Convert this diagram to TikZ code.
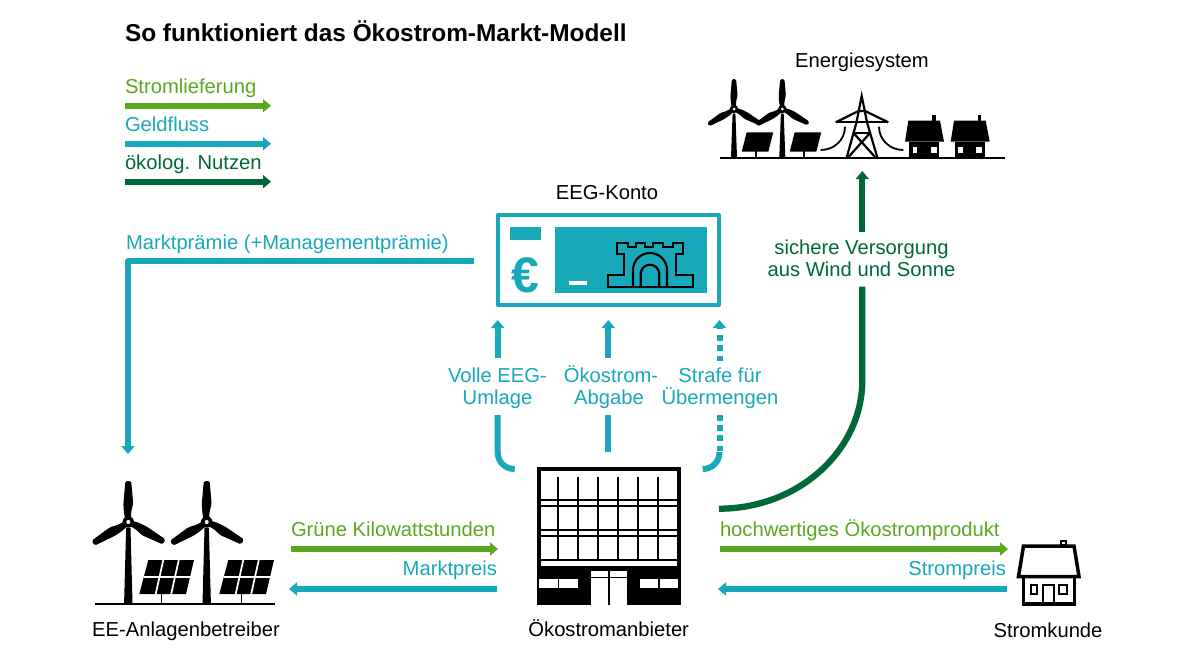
\documentclass[tikz,border=0pt]{standalone}
\usepackage{fontspec}
\setmainfont{Liberation Sans}
\usetikzlibrary{arrows.meta}
\definecolor{oegreen}{HTML}{5BA81E}
\definecolor{oeteal}{HTML}{17A9B9}
\definecolor{oedark}{HTML}{006838}
\tikzset{
  lab/.style={inner sep=0pt,outer sep=0pt,font=\fontsize{20.2}{24}\selectfont},
  flow/.style={line width=6pt,-{Triangle[width=13pt,length=8pt]}},
  flowend/.style={line width=6pt},
  dots/.style={line width=6pt,dash pattern=on 5.5pt off 4.7pt}
}
\newcommand{\oeblade}[4]{%
  \begin{scope}[shift={(#1,#2)},rotate=#3]
    \fill[rounded corners=1.6pt] (0,-.06*#4) -- (.25*#4,-.11*#4) -- (.45*#4,-.12*#4) -- (#4,-.07*#4) -- (#4,.07*#4) -- (.45*#4,.12*#4) -- (.25*#4,.07*#4) -- (0,.06*#4) -- cycle;
  \end{scope}}
\newcommand{\oeturbine}[6]{%
  \fill (#1-#5,#2+.15*#4) -- (#1+#5,#2+.15*#4) -- (#1+#6,#3) -- (#1-#6,#3) -- cycle;
  \oeblade{#1}{#2}{90}{#4}
  \oeblade{#1}{#2}{211}{#4}
  \oeblade{#1}{#2}{-29}{#4}
  \fill (#1,#2) circle (.14*#4);
  \fill[white] (#1,#2) circle (.05*#4);
}
\newcommand{\oebigpanel}[1]{%
  \begin{scope}[xshift=#1]
    \fill (148.3,560) -- (194,560) -- (186,594) -- (139.3,594) -- cycle;
    \draw[white,line width=1.7pt] (143.5,577) -- (190.5,577);
    \draw[white,line width=1.7pt] (163.5,559) -- (155.5,595);
    \draw[white,line width=1.7pt] (179,559) -- (171,595);
    \draw[line width=1.5pt] (161.7,594) -- (161.7,603);
  \end{scope}}
\newcommand{\oesmallpanel}[1]{%
  \begin{scope}[xshift=#1]
    \fill (746.7,132.3) -- (773.3,132.3) -- (768.3,151.7) -- (741.7,151.7) -- cycle;
    \draw[line width=1.4pt] (756,151) -- (756,157);
  \end{scope}}
\newcommand{\oehouse}[1]{%
  \begin{scope}[xshift=#1]
    \fill (908.3,120.7) -- (940,120.7) -- (944,141.7) -- (905,141.7) -- cycle;
    \fill (932.3,115) rectangle (935.7,120.7);
    \fill (909.3,141.7) rectangle (939.3,157);
    \fill[white] (912.7,147.3) rectangle (917.3,153.3);
    \fill[white] (930.7,147.3) rectangle (936.7,153.3);
  \end{scope}}
\begin{document}
\begin{tikzpicture}[x=1pt,y=-1pt]
\useasboundingbox (0,0) rectangle (1185,667);
\fill[white] (0,0) rectangle (1185,667);

% title and legend
\node[lab,anchor=base west,font=\fontsize{24.4}{28}\selectfont\bfseries] (title) at (125,41) {So funktioniert das Ökostrom-Markt-Modell};
\node[lab,anchor=base west,text=oegreen] (lega) at (125,93.5) {Stromlieferung};
\node[lab,anchor=base west,text=oeteal] (legb) at (125,131.5) {Geldfluss};
\node[lab,anchor=base west,text=oedark] (legc) at (125,169.5) {ökolog. Nutzen};
\coordinate (la1) at (125,105.7); \coordinate (la2) at (271,105.7);
\coordinate (lb1) at (125,143.7); \coordinate (lb2) at (271,143.7);
\coordinate (lc1) at (125,181.7); \coordinate (lc2) at (271,181.7);
\draw[flow,oegreen] (la1) -- (la2);
\draw[flow,oeteal] (lb1) -- (lb2);
\draw[flow,oedark] (lc1) -- (lc2);

% Energiesystem
\node[lab,anchor=base] (energie) at (862,67) {Energiesystem};
\draw[line width=2pt] (720,157.7) -- (1005,157.7);
\oeturbine{734}{109}{157}{30}{1.4}{3}
\oeturbine{782.3}{109}{157}{30}{1.4}{3}
\oesmallpanel{0}
\oesmallpanel{48}
\begin{scope}[line width=2.2pt,line join=miter]
  \draw (846.7,157.5) -- (856.5,122.3) -- (861.7,96) -- (867,122.3) -- (877.3,157.5);
  \draw (835.7,122.3) -- (888.3,122.3);
  \draw (835.7,122.3) -- (858.5,111) -- (865,111) -- (888.3,122.3);
  \draw (853.5,133) -- (870,133);
  \draw (853.5,133) -- (875,157);
  \draw (870,133) -- (848.5,157);
\end{scope}
\draw[line width=1.8pt] (845,126.7) .. controls (845,140) and (834,150) .. (820.7,150);
\draw[line width=1.8pt] (879,126.7) .. controls (879,140) and (890,150) .. (903.3,150);
\oehouse{0}
\oehouse{45.7}

% EEG-Konto
\node[lab,anchor=base] (eeg) at (607,199) {EEG-Konto};
\draw[oeteal,line width=4pt,line join=round] (497.7,215.3) rectangle (719.3,304.7);
\fill[oeteal] (510,226.7) rectangle (540.7,240.3);
\fill[oeteal] (555.3,226.7) rectangle (706.7,293.3);
\fill[white] (569,280.7) rectangle (586.5,285);
\node[lab,anchor=base,text=oeteal,font=\fontsize{50}{50}\selectfont\bfseries] (euro) at (525,292) {€};
\draw[line width=2.2pt,line join=miter] (608.3,286.7) -- (608.3,275) -- (624,275) -- (624,254) -- (617.3,254) -- (617.3,242.7) -- (628.3,242.7) -- (628.3,247.3) -- (636,247.3) -- (636,242.7) -- (645,242.7) -- (645,247.3) -- (653.3,247.3) -- (653.3,242.7) -- (663.3,242.7) -- (663.3,247.3) -- (673.3,247.3) -- (673.3,242.7) -- (683.3,242.7) -- (683.3,254) -- (676,254) -- (676,275) -- (692.7,275) -- (692.7,286.7) -- cycle;
\draw[line width=2.2pt] (633,286.7) -- (633,270) .. controls (633,260.6) and (640.6,253) .. (650,253) .. controls (659.4,253) and (667,260.6) .. (667,270) -- (667,286.7);
\draw[line width=2.2pt] (640.7,286.7) -- (640.7,274) .. controls (640.7,268.9) and (644.9,264.7) .. (650,264.7) .. controls (655.1,264.7) and (659.3,268.9) .. (659.3,274) -- (659.3,286.7);

% Marktpraemie
\node[lab,anchor=base west,text=oeteal] (mp) at (126,249) {Marktprämie (+Managementprämie)};
\coordinate (mpa) at (473.5,261.3);
\coordinate (mpb) at (128,261.3);
\coordinate (mpc) at (128,454);
\draw[flow,oeteal,line join=round] (mpa) -- (mpb) -- (mpc);

% Anlagen
\node[lab,anchor=base] (anl) at (186,636.5) {EE-Anlagenbetreiber};
\draw[line width=2pt] (95,603.5) -- (275,603.5);
\oeturbine{128.3}{522}{603}{41}{2.2}{4.2}
\oeturbine{206.7}{522}{603}{41}{2.2}{4.2}
\oebigpanel{0}
\oebigpanel{80}

% Anbieter
\node[lab,anchor=base] (anb) at (608.7,636.5) {Ökostromanbieter};
\draw[line width=4pt] (538.7,468.7) rectangle (678.7,568);
\foreach \xx in {558.3,578.3,598.3,618.3,638.3,658.3} \draw[line width=1.8pt] (\xx,476.7) -- (\xx,560);
\foreach \yy in {500,506,530,536,560} \draw[line width=2pt] (540,\yy) -- (677,\yy);
\fill (536.7,566) rectangle (680.7,605);
\fill[white] (590.7,570.7) rectangle (626.7,576.7);
\fill[white] (590.7,578.3) rectangle (626.7,605.5);
\draw[line width=1.8pt] (608.7,570.7) -- (608.7,576.7);
\draw[line width=1.8pt] (608.7,578.3) -- (608.7,605);
\foreach \ax/\bx in {539.3/557.7,559.3/577.7,640/658.3,660/677.7} \fill[white] (\ax,578.7) rectangle (\bx,588.3);

% Stromkunde
\node[lab,anchor=base] (kunde) at (1048,637) {Stromkunde};
\begin{scope}[line width=3.5pt,line join=miter]
  \draw (1023.5,546) -- (1074,546) -- (1079,576.5) -- (1018.5,576.5) -- cycle;
  \draw (1023.7,576.5) -- (1023.7,604) -- (1074.5,604) -- (1074.5,576.5);
\end{scope}
\draw[line width=2pt] (1060.5,540.5) rectangle (1065.7,545);
\draw[line width=1.7pt] (1030.7,585) rectangle (1037.3,594);
\draw[line width=1.7pt] (1059.3,585) rectangle (1066.7,594);
\draw[line width=1.7pt] (1043.3,604) -- (1043.3,585) -- (1054,585) -- (1054,604);

% Vertical flows
\coordinate (va1) at (497.7,358); \coordinate (va2) at (497.7,320);
\coordinate (vb1) at (608.3,358); \coordinate (vb2) at (608.3,320);
\coordinate (vc1) at (719.5,361); \coordinate (vc2) at (719.5,320);
\draw[flow,oeteal] (va1) -- (va2);
\draw[flow,oeteal] (vb1) -- (vb2);
\draw[dots,oeteal] (vc1) -- (719.5,331);
\draw[flow,oeteal] (719.5,329) -- (vc2);
\node[lab,anchor=base,text=oeteal] (voll1) at (497.5,382) {Volle EEG-};
\node[lab,anchor=base,text=oeteal] (voll2) at (497.5,404) {Umlage};
\node[lab,anchor=base,text=oeteal] (oeko1) at (611,382) {Ökostrom-};
\node[lab,anchor=base,text=oeteal] (oeko2) at (609,404) {Abgabe};
\node[lab,anchor=base,text=oeteal] (str1) at (720,382) {Strafe für};
\node[lab,anchor=base,text=oeteal] (str2) at (720,404) {Übermengen};
\coordinate (wa1) at (497.7,415); \coordinate (wa2) at (514.7,469);
\coordinate (wb1) at (608.3,415); \coordinate (wb2) at (608.3,452);
\coordinate (wc1) at (719.5,415); \coordinate (wc2) at (702.7,469);
\draw[flowend,oeteal] (wa1) -- (497.7,452) .. controls (497.7,462) and (505,469) .. (wa2);
\draw[flowend,oeteal] (wb1) -- (wb2);
\draw[dots,oeteal] (wc1) -- (719.5,452);
\draw[flowend,oeteal] (719.5,452) .. controls (719.5,462) and (712,469) .. (wc2);

% Green curve and arrow
\coordinate (ga) at (719,508.7); \coordinate (gb) at (862.3,380); \coordinate (gc) at (862.3,286.7);
\draw[line width=6.3pt,oedark] (ga) .. controls (798,508.7) and (862.3,451) .. (gb) -- (gc);
\coordinate (gd) at (862.3,232); \coordinate (ge) at (862.3,171);
\draw[line width=6.3pt,oedark,-{Triangle[width=13pt,length=8pt]}] (gd) -- (ge);
\node[lab,anchor=base,text=oedark] (sich1) at (861.5,254) {sichere Versorgung};
\node[lab,anchor=base,text=oedark] (sich2) at (861.5,276) {aus Wind und Sonne};

% Horizontal flows
\node[lab,anchor=base west,text=oegreen] (gk) at (291,536.5) {Grüne Kilowattstunden};
\node[lab,anchor=base east,text=oeteal] (mk) at (497,575.5) {Marktpreis};
\node[lab,anchor=base west,text=oegreen] (hw) at (720,536.5) {hochwertiges Ökostromprodukt};
\node[lab,anchor=base east,text=oeteal] (sp) at (1006,575.5) {Strompreis};
\coordinate (ha1) at (291,549); \coordinate (ha2) at (498,549);
\coordinate (hb1) at (497,589); \coordinate (hb2) at (289,589);
\coordinate (hc1) at (720,549); \coordinate (hc2) at (1008,549);
\coordinate (hd1) at (1007,589); \coordinate (hd2) at (718,589);
\draw[flow,oegreen] (ha1) -- (ha2);
\draw[flow,oeteal] (hb1) -- (hb2);
\draw[flow,oegreen] (hc1) -- (hc2);
\draw[flow,oeteal] (hd1) -- (hd2);
\end{tikzpicture}
\end{document}
